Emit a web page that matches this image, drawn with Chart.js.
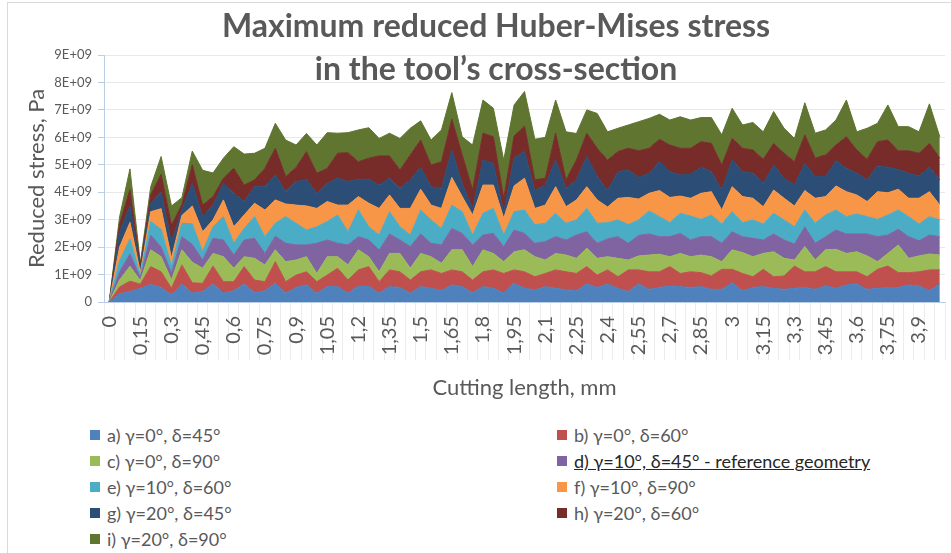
<!DOCTYPE html>
<html>
<head>
<meta charset="utf-8">
<script src="https://cdn.jsdelivr.net/npm/chart.js@4.4.1/dist/chart.umd.min.js"></script>
<style>
  html, body { margin: 0; padding: 0; background: #fff; }
  #wrap { position: relative; width: 951px; height: 553px; overflow: hidden; font-family: Lato, sans-serif; color: #595959; }
  #frame { position: absolute; left: 7px; top: 2px; width: 960px; height: 560px; border-left: 1px solid #d9d9d9; border-top: 1px solid #d9d9d9; }
  #chart { position: absolute; left: 0; top: 0; }
  #title { position: absolute; left: 146px; top: 3px; width: 700px; text-align: center; font-weight: bold; font-size: 32px; line-height: 43px; }
  #legend { position: absolute; left: 90px; top: 422px; display: grid; grid-template-columns: 467px 380px; grid-auto-rows: 26px; font-size: 18px; }
  .item { display: flex; align-items: center; white-space: nowrap; }
  .box { width: 10px; height: 10px; margin-right: 7px; flex: none; }
  .ref { color: #262626; text-decoration: underline; }
</style>
</head>
<body>
<div id="wrap">
  <div id="frame"></div>
  <canvas id="chart" width="951" height="405"></canvas>
  <div id="title">Maximum reduced Huber-Mises stress<br>in the tool’s cross-section</div>
  <div id="legend"></div>
</div>
<script>
// cutting length, mm (category labels)
const lengths = ['0','0,05','0,1','0,15','0,2','0,25','0,3','0,35','0,4','0,45',
  '0,5','0,55','0,6','0,65','0,7','0,75','0,8','0,85','0,9','0,95',
  '1','1,05','1,1','1,15','1,2','1,25','1,3','1,35','1,4','1,45',
  '1,5','1,55','1,6','1,65','1,7','1,75','1,8','1,85','1,9','1,95',
  '2','2,05','2,1','2,15','2,2','2,25','2,3','2,35','2,4','2,45',
  '2,5','2,55','2,6','2,65','2,7','2,75','2,8','2,85','2,9','2,95',
  '3','3,05','3,1','3,15','3,2','3,25','3,3','3,35','3,4','3,45',
  '3,5','3,55','3,6','3,65','3,7','3,75','3,8','3,85','3,9','3,95','4'];

// reduced stress per geometry, in units of 1E+09 Pa (stacked)
const a = [0,0.30,0.38,0.50,0.64,0.53,0.26,0.66,0.33,0.38,
  0.66,0.32,0.41,0.66,0.34,0.41,0.68,0.32,0.53,0.62,
  0.32,0.56,0.56,0.32,0.58,0.58,0.32,0.56,0.53,0.32,
  0.56,0.50,0.41,0.62,0.56,0.34,0.56,0.50,0.32,0.68,
  0.50,0.44,0.56,0.50,0.44,0.41,0.66,0.53,0.65,0.50,
  0.38,0.66,0.46,0.53,0.58,0.56,0.53,0.56,0.46,0.46,
  0.70,0.41,0.53,0.56,0.50,0.46,0.50,0.53,0.46,0.59,
  0.50,0.62,0.66,0.46,0.50,0.53,0.53,0.62,0.58,0.41,0.66];
const b = [0,0.25,0.38,0.15,0.65,0.57,0.24,0.69,0.37,0.30,
  0.65,0.42,0.33,0.63,0.46,0.33,0.79,0.42,0.45,0.48,
  0.42,0.42,0.67,0.48,0.59,0.71,0.42,0.61,0.57,0.48,
  0.54,0.67,0.63,0.55,0.54,0.46,0.54,0.67,0.72,0.49,
  0.60,0.48,0.48,0.67,0.66,0.63,0.63,0.45,0.52,0.42,
  0.79,0.51,0.64,0.57,0.71,0.48,0.57,0.51,0.49,0.73,
  0.49,0.63,0.39,0.63,0.42,0.49,0.81,0.57,0.64,0.70,
  0.60,0.48,0.44,0.46,0.69,0.78,0.54,0.45,0.52,0.76,0.51];
const c = [0,0.25,0.54,0.13,0.61,0.55,0.30,0.55,0.75,0.55,
  0.46,0.91,0.49,0.36,0.79,0.61,0.43,0.73,0.55,0.55,
  0.30,0.67,0.42,0.55,0.73,0.36,0.36,0.60,0.67,0.43,
  0.67,0.48,0.37,0.73,0.80,0.49,0.80,0.60,0.43,0.66,
  0.80,0.73,0.49,0.60,0.61,0.55,0.67,0.61,0.48,0.67,
  0.36,0.51,0.61,0.64,0.36,0.73,0.55,0.64,0.70,0.28,
  0.71,0.76,0.73,0.58,0.91,0.64,0.22,0.92,0.43,0.61,
  0.82,0.67,0.73,0.76,0.28,0.46,1.01,0.52,0.58,0.58,0.54];
const d = [0,0.30,0.45,0.10,0.54,0.35,0.25,0.48,0.65,0.30,
  0.55,0.61,0.48,0.61,0.73,0.42,0.50,0.67,0.55,0.43,
  1.10,0.61,0.49,0.73,0.48,0.61,0.79,0.71,0.49,0.79,
  0.71,0.49,0.67,0.78,0.60,0.79,0.54,0.73,0.55,0.79,
  0.60,0.49,0.67,0.61,0.55,0.85,0.60,0.55,0.65,0.79,
  0.61,0.75,0.77,0.64,0.73,0.73,0.61,0.67,0.73,0.67,
  0.66,0.58,0.67,0.49,0.65,0.67,0.58,0.72,0.61,0.48,
  0.70,0.71,0.65,0.80,0.91,0.67,0.57,0.79,0.55,0.69,0.67];
const e = [0,0.40,0.55,0.09,0.49,0.65,0.25,0.49,0.75,0.30,
  0.42,0.85,0.43,0.42,0.79,0.61,0.47,0.97,0.79,0.54,
  0.60,0.67,1.03,0.48,0.97,0.48,0.55,0.81,0.48,0.42,
  0.87,0.85,0.60,0.85,0.79,0.36,0.79,0.91,0.42,0.67,
  0.85,0.67,0.67,0.85,0.61,0.55,0.85,0.73,0.59,0.61,
  0.68,0.56,0.84,0.73,0.51,0.73,0.87,0.63,0.79,0.70,
  0.73,0.51,0.67,0.58,0.75,0.73,0.63,0.61,0.73,0.79,
  0.73,0.63,0.73,0.63,0.63,0.73,0.70,0.73,0.61,0.67,0.61];
const f = [0,0.50,0.60,0.11,0.36,0.75,0.30,0.28,0.65,0.73,
  0.25,0.61,0.60,0.49,0.49,0.97,0.85,0.46,0.66,0.88,
  0.67,0.73,0.36,0.97,0.49,0.86,0.97,0.61,0.67,0.97,
  0.76,0.54,0.73,1.01,0.55,0.73,1.03,0.85,0.61,0.94,
  1.16,0.60,0.66,0.97,0.60,0.73,0.79,0.85,0.57,0.79,
  0.99,0.76,0.64,0.95,0.92,0.63,0.65,0.95,0.85,0.51,
  0.91,0.95,0.79,0.63,0.85,0.79,0.76,0.71,0.91,0.67,
  0.88,0.91,0.69,0.55,1.01,0.81,0.76,0.67,0.94,0.91,0.54];
const g = [0,0.55,0.60,0.14,0.31,0.60,0.60,0.20,0.82,0.55,
  0.54,0.60,1.22,0.49,0.60,0.85,0.91,0.45,0.86,0.95,
  0.55,0.66,0.98,0.86,0.63,0.87,0.85,0.61,0.73,1.04,
  0.80,0.67,0.73,1.00,0.48,0.23,0.91,0.79,0.20,1.01,
  0.97,0.64,0.73,0.97,0.67,0.73,1.10,0.85,0.60,0.97,
  1.00,0.79,0.73,1.05,0.94,0.77,0.88,0.95,0.73,0.73,
  0.97,0.91,0.91,0.85,0.91,0.73,0.76,0.99,0.79,0.73,
  0.92,0.85,0.79,0.79,0.94,0.93,0.72,0.91,0.81,0.89,0.92];
const h = [0,0.30,0.60,0.10,0.30,0.65,0.60,0.20,0.68,0.42,
  0.31,0.19,0.91,0.60,0.25,0.67,0.97,0.55,0.51,1.03,
  0.73,0.55,0.91,1.05,0.64,0.77,1.06,0.81,0.67,0.91,
  0.99,0.79,0.97,1.12,1.04,0.68,0.98,0.97,0.53,0.81,
  0.93,0.40,0.25,0.98,0.31,0.72,0.85,1.03,1.11,0.73,
  0.79,0.97,0.91,0.82,0.97,0.97,0.94,0.93,1.03,0.91,
  0.79,0.85,0.85,0.88,0.79,0.91,0.85,1.04,0.67,0.79,
  0.57,1.15,0.85,0.75,0.88,0.99,0.68,0.82,0.83,0.87,0.79];
const i_ = [0,0.25,0.75,0.10,0.30,0.65,0.70,0.25,0.50,1.27,
  0.86,0.73,0.79,1.13,0.97,0.73,0.91,1.33,0.82,0.66,
  1.03,1.30,0.73,0.73,1.16,1.11,0.64,0.83,1.15,0.97,
  0.70,0.91,1.16,0.97,0.66,1.64,1.21,1.04,1.39,1.13,
  1.26,1.48,1.49,1.21,1.75,0.97,0.85,1.27,1.03,0.85,
  0.85,1.06,1.09,0.91,0.91,1.15,1.03,0.88,0.94,1.10,
  1.10,0.85,1.00,1.00,1.16,0.91,0.85,1.17,0.91,0.91,
  0.91,1.34,0.66,1.13,0.67,1.28,0.88,0.88,0.78,1.44,0.78];

const seriesNames = ['a) γ=0°, δ=45°', 'b) γ=0°, δ=60°', 'c) γ=0°, δ=90°',
  'd) γ=10°, δ=45° - reference geometry', 'e) γ=10°, δ=60°', 'f) γ=10°, δ=90°',
  'g) γ=20°, δ=45°', 'h) γ=20°, δ=60°', 'i) γ=20°, δ=90°'];
const seriesValues = [a, b, c, d, e, f, g, h, i_];
const yTicks = [0, 1, 2, 3, 4, 5, 6, 7, 8, 9];
const referenceSeries = 3;

const colors = ['#4f81bd', '#c0504d', '#9bbb59', '#8064a2', '#4bacc6',
  '#f79646', '#2c4d75', '#772c2a', '#5f7530'];
const grey = '#595959';

Chart.defaults.font.family = 'Lato';

const datasets = seriesValues.map((vals, k) => ({
  label: seriesNames[k],
  data: vals,
  backgroundColor: colors[k],
  borderColor: colors[k],
  borderWidth: 1,
  pointRadius: 0,
  tension: 0,
  fill: k === 0 ? 'origin' : '-1',
}));

const chart = new Chart(document.getElementById('chart'), {
  type: 'line',
  data: { labels: lengths, datasets },
  options: {
    responsive: false,
    animation: false,
    layout: { padding: { top: 55, right: 6, left: 20, bottom: 0 } },
    plugins: { legend: { display: false }, tooltip: { enabled: false } },
    scales: {
      x: {
        offset: true,
        grid: { drawOnChartArea: false, offset: true, tickLength: 58, tickColor: '#ececec', color: '#ececec' },
        border: { color: '#b9cde5' },
        ticks: {
          autoSkip: false, maxRotation: 90, minRotation: 90, padding: -44,
          color: grey, font: { size: 20 },
          callback: (v, idx) => idx % 3 === 0 ? lengths[idx] : '',
        },
        title: { display: true, text: 'Cutting length, mm', color: grey, font: { size: 22 }, padding: 4 },
        afterFit: s => { s.height = 103; },
      },
      y: {
        stacked: true,
        min: yTicks[0],
        max: yTicks[yTicks.length - 1],
        afterBuildTicks: s => { s.ticks = yTicks.map(v => ({ value: v })); },
        grid: { color: '#e8e8e8', tickLength: 6, tickColor: '#b9cde5' },
        border: { color: '#b9cde5' },
        ticks: {
          padding: 6, color: grey, font: { size: 13 },
          callback: v => v === 0 ? '0' : v + 'E+09',
        },
        title: { display: true, text: 'Reduced stress, Pa', color: grey, font: { size: 22 }, padding: 4 },
        afterFit: s => { s.width = 84; },
      },
    },
  },
});

// two-column legend
const legend = document.getElementById('legend');
chart.data.datasets.forEach((ds, k) => {
  const item = document.createElement('div');
  item.className = 'item';
  const box = document.createElement('span');
  box.className = 'box';
  box.style.background = ds.backgroundColor;
  const txt = document.createElement('span');
  txt.textContent = ds.label;
  if (k === referenceSeries) txt.className = 'ref';
  item.appendChild(box);
  item.appendChild(txt);
  legend.appendChild(item);
});
</script>
</body>
</html>
